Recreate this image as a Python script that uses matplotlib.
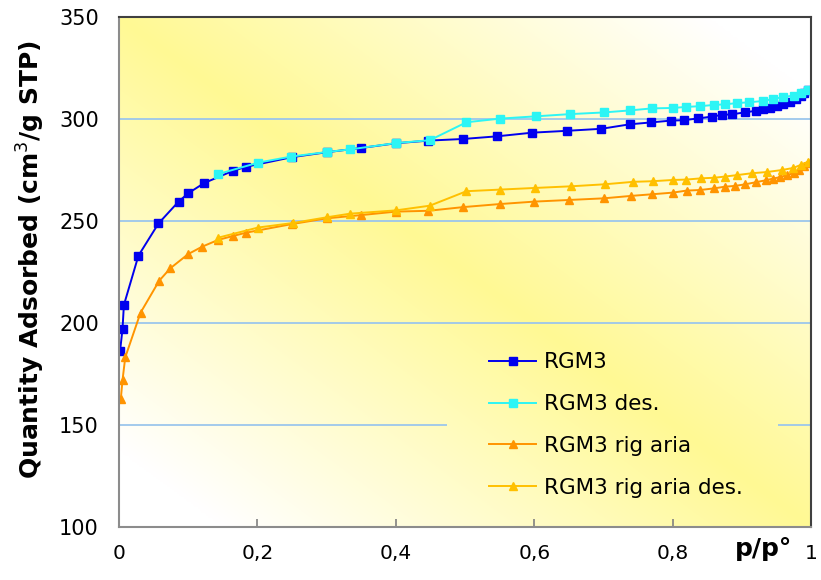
import matplotlib
matplotlib.use('Agg')
import matplotlib.pyplot as plt
import numpy as np
from matplotlib.ticker import FuncFormatter, MultipleLocator

# RGM3 adsorption branch
rgm3_x = [0.0015, 0.005, 0.007, 0.028, 0.057, 0.086, 0.100, 0.123, 0.164, 0.184,
          0.250, 0.300, 0.350, 0.400, 0.447, 0.497, 0.546, 0.597, 0.647, 0.697,
          0.738, 0.768, 0.797, 0.816, 0.837, 0.857, 0.871, 0.886, 0.905, 0.920,
          0.930, 0.940, 0.950, 0.960, 0.970, 0.978, 0.985, 0.990, 0.995]
rgm3_y = [186.4, 197, 208.8, 233, 248.8, 259.5, 263.6, 268.6, 274.5, 276.6,
          281.3, 283.7, 285.8, 288.1, 289.4, 290.2, 291.5, 293.3, 294.2, 295.2,
          297.4, 298.3, 299.2, 299.4, 300.3, 301.2, 302, 302.3, 303.3, 304,
          304.7, 305.5, 306.3, 307.3, 308.5, 309.8, 311.2, 312.5, 314]

# RGM3 desorption branch
rgm3_des_x = [0.995, 0.985, 0.975, 0.960, 0.945, 0.930, 0.910, 0.893, 0.876, 0.860,
              0.840, 0.819, 0.800, 0.770, 0.738, 0.700, 0.652, 0.602, 0.551, 0.502,
              0.449, 0.400, 0.334, 0.300, 0.249, 0.201, 0.143]
rgm3_des_y = [314, 312.5, 311.5, 310.8, 309.8, 308.8, 308.2, 307.8, 307.2, 306.9,
              306.3, 305.9, 305.4, 305.2, 304.2, 303.2, 302.4, 301.3, 300.2, 298.4,
              289.6, 288.2, 285.1, 283.8, 281.6, 278.6, 273]

# RGM3 rig aria adsorption branch
rig_x = [0.0025, 0.005, 0.009, 0.031, 0.058, 0.074, 0.100, 0.120, 0.143, 0.164,
         0.184, 0.250, 0.300, 0.350, 0.400, 0.447, 0.497, 0.550, 0.600, 0.650,
         0.700, 0.740, 0.770, 0.800, 0.820, 0.840, 0.860, 0.875, 0.890, 0.905,
         0.920, 0.935, 0.945, 0.955, 0.965, 0.975, 0.983, 0.990, 0.995]
rig_y = [162.6, 172, 183.2, 205, 220.7, 226.8, 233.8, 237.4, 240.7, 242.6,
         244.3, 248.5, 251.3, 252.9, 254.6, 255, 256.8, 258.3, 259.5, 260.3,
         261.1, 262.3, 263.1, 263.9, 264.9, 265.2, 266, 266.8, 267.2, 268,
         269, 270, 270.8, 271.5, 272.5, 273.5, 275, 276.8, 278.3]

# RGM3 rig aria desorption branch
rig_des_x = [0.995, 0.985, 0.974, 0.958, 0.936, 0.914, 0.893, 0.876, 0.860, 0.841,
             0.819, 0.800, 0.771, 0.743, 0.702, 0.653, 0.601, 0.551, 0.502, 0.449,
             0.400, 0.334, 0.300, 0.251, 0.201, 0.143]
rig_des_y = [279, 277.5, 276, 275, 274, 273.4, 272.5, 271.8, 271.2, 270.9,
             270.3, 270.1, 269.5, 269.2, 268, 267, 266.2, 265.4, 264.6, 257.5,
             255.2, 253.6, 251.8, 249, 246.8, 241.8]

series = [
    ('RGM3', rgm3_x, rgm3_y, '#0000ee', 's'),
    ('RGM3 des.', rgm3_des_x, rgm3_des_y, '#2cf5f5', 's'),
    ('RGM3 rig aria', rig_x, rig_y, '#ff9400', '^'),
    ('RGM3 rig aria des.', rig_des_x, rig_des_y, '#ffc000', '^'),
]


def gradient_image(h=300, w=400):
    # yellow along the main diagonal, fading to white towards top-right / bottom-left
    u = np.linspace(0, 1, w)[None, :]
    v = np.linspace(0, 1, h)[:, None]
    t = np.clip(np.abs(u - v) / 0.85, 0, 1)
    yellow = np.array([255, 249, 148]) / 255.0
    white = np.array([1.0, 1.0, 1.0])
    return yellow[None, None, :] * (1 - t[..., None]) + white[None, None, :] * t[..., None]


def main():
    plt.rcParams['font.family'] = 'DejaVu Sans'
    fig = plt.figure(figsize=(8.21, 5.80), dpi=100)
    ax = fig.add_axes([0.145, 0.0914, 0.843, 0.8793])

    img = gradient_image()
    ax.imshow(img, extent=[0, 1, 0, 1], transform=ax.transAxes, aspect='auto', zorder=0)

    for label, xs, ys, color, marker in series:
        ax.plot(xs, ys, color=color, marker=marker, markersize=6, lw=1.4,
                label=label, zorder=2)

    ax.set_xlim(0, 1)
    ax.set_ylim(100, 350)
    ax.xaxis.set_major_locator(MultipleLocator(0.2))
    ax.yaxis.set_major_locator(MultipleLocator(50))
    ax.xaxis.set_major_formatter(FuncFormatter(lambda v, p: f'{v:g}'.replace('.', ',')))
    ax.set_axisbelow(True)
    ax.grid(axis='y', color='#9cc6ec', lw=1.3)
    ax.grid(axis='x', visible=False)

    ax.tick_params(axis='x', direction='in', length=6, width=1.2, color='#808080',
                   pad=12, labelsize=14.5)
    ax.tick_params(axis='y', length=0, pad=14.5, labelsize=15)

    for side in ('top', 'right'):
        ax.spines[side].set_color('#404040')
        ax.spines[side].set_linewidth(1.5)
    for side in ('left', 'bottom'):
        ax.spines[side].set_color('#8c8c8c')
        ax.spines[side].set_linewidth(1.5)

    ax.set_ylabel('Quantity Adsorbed (cm$^3$/g STP)', fontsize=18, fontweight='bold',
                  labelpad=9)
    ax.yaxis.label.set_y(0.525)
    ax.text(0.9725, -0.043, 'p/p°', transform=ax.transAxes, fontsize=18, fontweight='bold',
            ha='right', va='center')

    leg = ax.legend(loc='upper left', bbox_to_anchor=(0.491, 0.402), frameon=False,
                    fontsize=15.5, handlelength=2.2, handletextpad=0.37,
                    labelspacing=1.02, borderpad=0.9)

    # cover the grid line behind the legend with the same background
    fig.canvas.draw()
    bb = leg.get_window_extent().transformed(ax.transAxes.inverted())
    cover = ax.imshow(img, extent=[0, 1, 0, 1], transform=ax.transAxes, aspect='auto', zorder=0.8)
    rect = plt.Rectangle((bb.x0 - 0.032, bb.y0), bb.width + 0.054, bb.height,
                         transform=ax.transAxes, facecolor='none', edgecolor='none')
    ax.add_patch(rect)
    cover.set_clip_path(rect)

    fig.savefig('out.png', dpi=100)
    plt.close(fig)


if __name__ == '__main__':
    main()
